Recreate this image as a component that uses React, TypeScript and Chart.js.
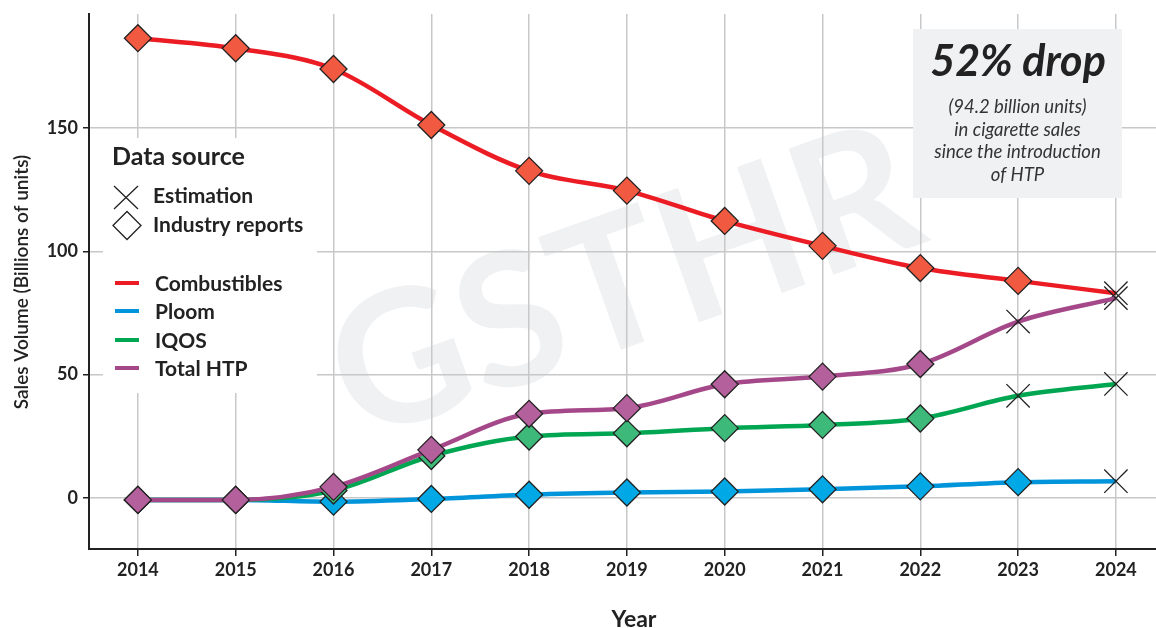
import React, { useEffect, useRef } from 'react';
import { Chart, registerables } from 'chart.js';

Chart.register(...registerables);

// ---- data ----
const years = [2014, 2015, 2016, 2017, 2018, 2019, 2020, 2021, 2022, 2023, 2024];
const combustibles = [186.4, 182.3, 173.9, 151.2, 132.6, 124.6, 112.3, 102.2, 93.2, 88.0, 83.0];
const ploom = [-0.8, -0.8, -1.5, -0.4, 1.3, 2.2, 2.6, 3.5, 4.7, 6.4, 6.8];
const iqos = [-0.8, -0.8, 3.0, 17.0, 24.9, 26.2, 28.3, 29.6, 32.2, 41.4, 46.2];
const totalHtp = [-0.8, -0.8, 4.5, 19.5, 34.1, 36.4, 46.1, 49.2, 54.3, 71.5, 81.0];
// R = industry reports, E = estimation
const combustiblesSource = ['R', 'R', 'R', 'R', 'R', 'R', 'R', 'R', 'R', 'R', 'E'];
const ploomSource = ['R', 'R', 'R', 'R', 'R', 'R', 'R', 'R', 'R', 'R', 'E'];
const iqosSource = ['R', 'R', 'R', 'R', 'R', 'R', 'R', 'R', 'R', 'E', 'E'];
const totalHtpSource = ['R', 'R', 'R', 'R', 'R', 'R', 'R', 'R', 'R', 'E', 'E'];
const yTicks = [0, 50, 100, 150];
const seriesNames = ['Combustibles', 'Ploom', 'IQOS', 'Total HTP'];
const sourceNames = ['Estimation', 'Industry reports'];
const annotationTitle = '52% drop';
const annotationLines = ['(94.2 billion units)', 'in cigarette sales', 'since the introduction', 'of HTP'];

// ---- styles ----
const lineColors = ['#ec1c24', '#0095da', '#00a651', '#a5488a'];
const fillColors = ['#f15a40', '#00a9e6', '#3dba7a', '#b3609c'];
const FONT = 'Lato, "Noto Sans", sans-serif';

function makeDataset(label: string, values: number[], sources: string[], idx: number) {
  return {
    label,
    data: years.map((y, i) => ({ x: y, y: values[i] })),
    borderColor: lineColors[idx],
    backgroundColor: fillColors[idx],
    borderWidth: 4.5,
    cubicInterpolationMode: 'monotone' as const,
    pointStyle: sources.map((s) => (s === 'E' ? 'crossRot' : 'rectRot')),
    pointRadius: sources.map((s) => (s === 'E' ? 16.5 : 13.5)),
    pointBackgroundColor: fillColors[idx],
    pointBorderColor: '#222222',
    pointBorderWidth: 1.3,
    clip: false as const,
  };
}

const overlayPlugin = {
  id: 'overlay',
  beforeDraw(chart: any) {
    const ctx = chart.ctx as CanvasRenderingContext2D;
    ctx.save();
    ctx.translate(358, 443);
    ctx.rotate((-19.5 * Math.PI) / 180);
    ctx.font = `bold 185px ${FONT}`;
    ctx.fillStyle = '#f0f1f3';
    ctx.textAlign = 'left';
    ctx.textBaseline = 'alphabetic';
    ctx.fillText('GSTHR', 0, 0);
    ctx.restore();
  },
  beforeDatasetsDraw(chart: any) {
    const ctx = chart.ctx as CanvasRenderingContext2D;
    ctx.save();
    // legend box
    ctx.fillStyle = '#ffffff';
    ctx.fillRect(103, 138, 214, 255);
    ctx.fillStyle = '#222222';
    ctx.textAlign = 'left';
    ctx.textBaseline = 'alphabetic';
    ctx.font = `bold 25px ${FONT}`;
    ctx.fillText('Data source', 112, 165);
    // estimation symbol
    ctx.strokeStyle = '#222222';
    ctx.lineWidth = 1.3;
    ctx.beginPath();
    ctx.moveTo(114, 186);
    ctx.lineTo(138, 209);
    ctx.moveTo(138, 186);
    ctx.lineTo(114, 209);
    ctx.stroke();
    // industry reports symbol
    ctx.beginPath();
    ctx.moveTo(113, 225.5);
    ctx.lineTo(127, 211.5);
    ctx.lineTo(141, 225.5);
    ctx.lineTo(127, 239.5);
    ctx.closePath();
    ctx.fillStyle = '#ffffff';
    ctx.fill();
    ctx.stroke();
    ctx.fillStyle = '#222222';
    ctx.font = `bold 21px ${FONT}`;
    ctx.textBaseline = 'middle';
    ctx.fillText(sourceNames[0], 153, 196);
    ctx.fillText(sourceNames[1], 153, 225);
    const rowsY = [283, 311, 340, 368];
    seriesNames.forEach((name, i) => {
      ctx.strokeStyle = lineColors[i];
      ctx.lineWidth = 4;
      ctx.beginPath();
      ctx.moveTo(115, rowsY[i]);
      ctx.lineTo(139, rowsY[i]);
      ctx.stroke();
      ctx.fillStyle = '#222222';
      ctx.fillText(name, 155, rowsY[i] + 1);
    });
    // annotation box
    ctx.fillStyle = '#f0f1f3';
    ctx.fillRect(913, 29, 209, 169);
    ctx.fillStyle = '#222222';
    ctx.textAlign = 'center';
    ctx.textBaseline = 'alphabetic';
    ctx.font = `italic bold 43px ${FONT}`;
    ctx.fillText(annotationTitle, 1018, 76);
    ctx.fillStyle = '#333333';
    ctx.font = `italic 18.5px ${FONT}`;
    const baseY = [113, 136, 158, 181];
    annotationLines.forEach((t, i) => ctx.fillText(t, 1017.5, baseY[i]));
    ctx.restore();
  },
  afterDraw(chart: any) {
    const ctx = chart.ctx as CanvasRenderingContext2D;
    ctx.save();
    ctx.fillStyle = '#222222';
    ctx.textAlign = 'center';
    ctx.textBaseline = 'middle';
    ctx.font = `bold 23px ${FONT}`;
    ctx.fillText('Year', 634, 620);
    ctx.translate(22, 282);
    ctx.rotate(-Math.PI / 2);
    ctx.font = `600 19px ${FONT}`;
    ctx.fillText('Sales Volume (Billions of units)', 0, 0);
    ctx.restore();
  },
};

export default function App() {
  const ref = useRef<HTMLCanvasElement | null>(null);
  useEffect(() => {
    document.body.style.margin = '0';
    const canvas = ref.current;
    if (!canvas) return;
    const chart = new Chart(canvas, {
      type: 'line',
      data: {
        datasets: [
          makeDataset(seriesNames[3], totalHtp, totalHtpSource, 3),
          makeDataset(seriesNames[2], iqos, iqosSource, 2),
          makeDataset(seriesNames[1], ploom, ploomSource, 1),
          makeDataset(seriesNames[0], combustibles, combustiblesSource, 0),
        ] as any,
      },
      options: {
        responsive: false,
        animation: false,
        devicePixelRatio: 1,
        layout: { autoPadding: false, padding: { top: 14, left: 0, right: 0, bottom: 0 } },
        plugins: { legend: { display: false }, tooltip: { enabled: false } },
        scales: {
          x: {
            type: 'linear',
            min: 2013.5,
            max: 2024.41,
            afterBuildTicks: (s: any) => {
              s.ticks = years.map((v) => ({ value: v }));
            },
            afterFit: (s: any) => {
              s.height = 79;
              s.paddingLeft = 0;
              s.paddingRight = 0;
              s.paddingTop = 0;
              s.paddingBottom = 0;
            },
            ticks: {
              callback: (v: any) => String(v),
              autoSkip: false,
              maxRotation: 0,
              padding: 3,
              color: '#222222',
              font: { family: FONT, size: 18, weight: 'bold' },
            },
            grid: { color: '#c8c8c8', lineWidth: 1.5, tickLength: 7, tickColor: '#222222', tickWidth: 1.5 },
            border: { color: '#222222', width: 2 },
          },
          y: {
            type: 'linear',
            min: -20.7,
            max: 196.2,
            afterBuildTicks: (s: any) => {
              s.ticks = yTicks.map((v) => ({ value: v }));
            },
            afterFit: (s: any) => {
              s.width = 89;
              s.paddingLeft = 0;
              s.paddingRight = 0;
              s.paddingTop = 0;
              s.paddingBottom = 0;
            },
            ticks: {
              callback: (v: any) => String(v),
              padding: 5,
              color: '#222222',
              font: { family: FONT, size: 18, weight: 'bold' },
            },
            grid: { color: '#c8c8c8', lineWidth: 1.5, tickLength: 6, tickColor: '#222222', tickWidth: 1.5 },
            border: { color: '#222222', width: 2 },
          },
        },
      } as any,
      plugins: [overlayPlugin],
    });
    return () => chart.destroy();
  }, []);
  return (
    <div style={{ width: 1156, height: 628, position: 'relative' }}>
      <canvas ref={ref} width={1156} height={628} style={{ width: 1156, height: 628, display: 'block' }} />
    </div>
  );
}
